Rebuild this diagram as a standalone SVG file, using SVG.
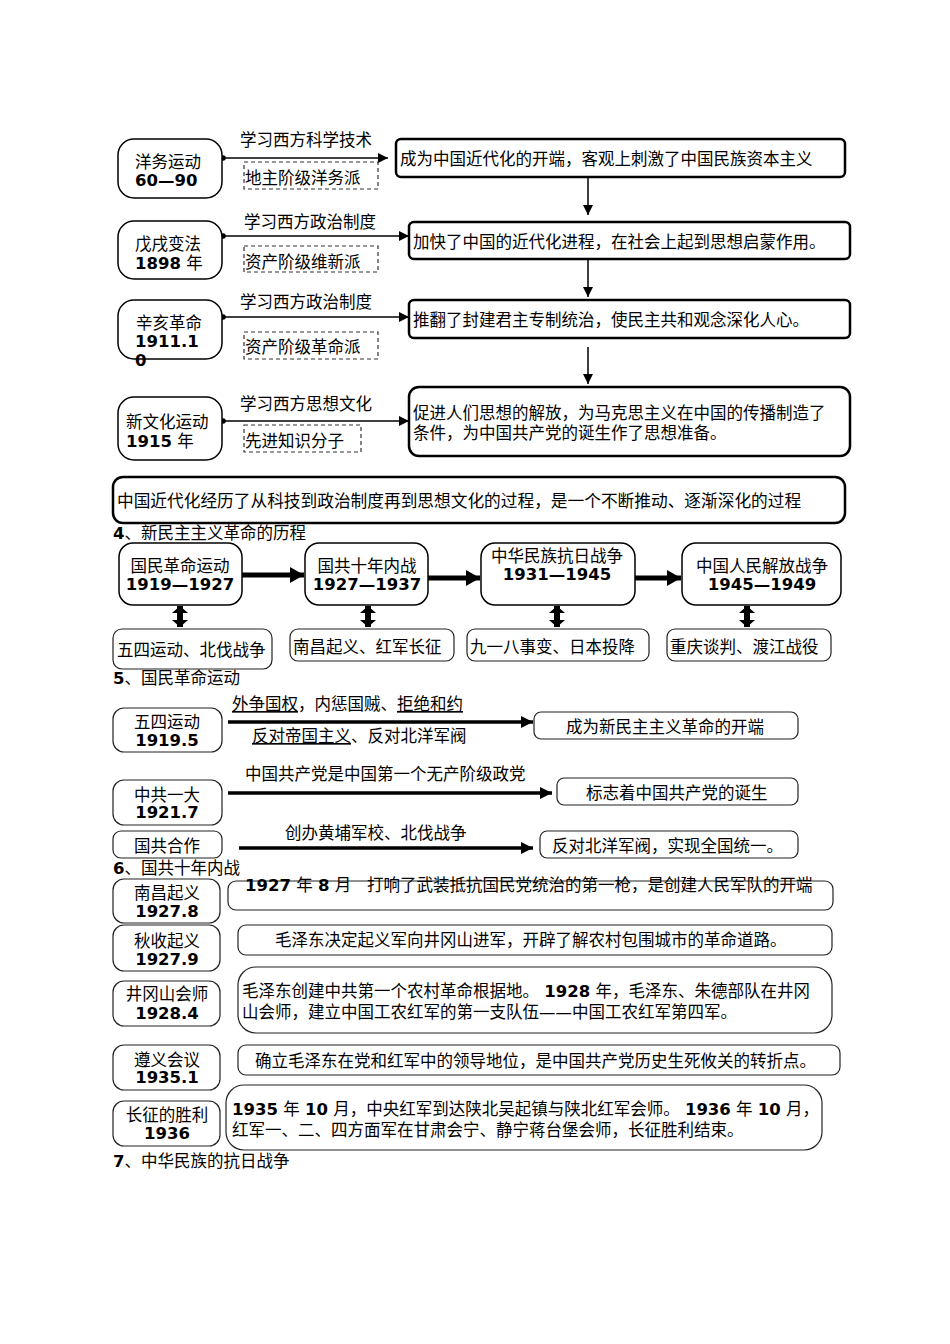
<svg xmlns="http://www.w3.org/2000/svg" width="950" height="1344" viewBox="0 0 950 1344">
<style>
text{font-family:"DejaVu Sans","Noto Sans CJK SC",sans-serif;font-size:16.5px;fill:#000}
.b{font-weight:bold}
.m{text-anchor:middle}
.sum{font-size:16.7px}
.nd{fill:#fff;stroke:#000;stroke-width:1.5}
.res{fill:#fff;stroke:#000;stroke-width:2.5}
.dash{fill:#fff;stroke:#333;stroke-width:1.2;stroke-dasharray:4,3}
.nd2{fill:#fff;stroke:#222;stroke-width:1.2}
.c1{stroke:#000;stroke-width:1.5;fill:none}
.c2{stroke:#000;stroke-width:5;fill:none}
.c3{stroke:#000;stroke-width:6;fill:none}
.c4{stroke:#000;stroke-width:3.5;fill:none}
.u{text-decoration:underline}
</style>
<defs>
<marker id="aS" markerUnits="userSpaceOnUse" viewBox="0 0 10 10" markerWidth="10" markerHeight="10" refX="10" refY="5" orient="auto"><path d="M0,0 L10,5 L0,10 z" fill="#000"/></marker>
<marker id="dot" markerUnits="userSpaceOnUse" viewBox="0 0 6 6" markerWidth="6" markerHeight="6" refX="3" refY="3" orient="auto"><circle cx="3" cy="3" r="2.8" fill="#000"/></marker>
<marker id="aB" markerUnits="userSpaceOnUse" viewBox="0 0 14 16" markerWidth="14" markerHeight="16" refX="14" refY="8" orient="auto"><path d="M0,0 L14,8 L0,16 z" fill="#000"/></marker>
<marker id="aD" markerUnits="userSpaceOnUse" viewBox="0 0 7 16" markerWidth="7" markerHeight="16" refX="7" refY="8" orient="auto-start-reverse"><path d="M0,0 L7,8 L0,16 z" fill="#000"/></marker>
<marker id="aM" markerUnits="userSpaceOnUse" viewBox="0 0 12 12" markerWidth="12" markerHeight="12" refX="12" refY="6" orient="auto"><path d="M0,0 L12,6 L0,12 z" fill="#000"/></marker>
</defs>

<g id="connectors">
<line class="c1" x1="223" y1="158" x2="388" y2="158" marker-start="url(#dot)" marker-end="url(#aS)"/>
<line class="c1" x1="223" y1="236" x2="409" y2="236" marker-start="url(#dot)" marker-end="url(#aS)"/>
<line class="c1" x1="223" y1="317" x2="409" y2="317" marker-start="url(#dot)" marker-end="url(#aS)"/>
<line class="c1" x1="223" y1="421" x2="409" y2="421" marker-start="url(#dot)" marker-end="url(#aS)"/>
<line class="c1" x1="588" y1="178" x2="588" y2="215" marker-end="url(#aS)"/>
<line class="c1" x1="588" y1="260" x2="588" y2="297" marker-end="url(#aS)"/>
<line class="c1" x1="588" y1="347" x2="588" y2="384" marker-end="url(#aS)"/>
<line class="c2" x1="242" y1="575" x2="304" y2="575" marker-end="url(#aB)"/>
<line class="c2" x1="428" y1="578" x2="480" y2="578" marker-end="url(#aB)"/>
<line class="c2" x1="635" y1="578" x2="681" y2="578" marker-end="url(#aB)"/>
<line class="c3" x1="180" y1="606" x2="180" y2="627" marker-start="url(#aD)" marker-end="url(#aD)"/>
<line class="c3" x1="368" y1="606" x2="368" y2="627" marker-start="url(#aD)" marker-end="url(#aD)"/>
<line class="c3" x1="557" y1="606" x2="557" y2="627" marker-start="url(#aD)" marker-end="url(#aD)"/>
<line class="c3" x1="747" y1="606" x2="747" y2="627" marker-start="url(#aD)" marker-end="url(#aD)"/>
<line class="c4" x1="228" y1="722" x2="533" y2="722" marker-end="url(#aM)"/>
<line class="c4" x1="228" y1="793" x2="552" y2="793" marker-end="url(#aM)"/>
<line class="c4" x1="239" y1="848" x2="533" y2="848" marker-end="url(#aM)"/>
</g>

<g id="yangwu"><rect class="nd" x="118" y="139" width="104" height="59" rx="16"/><text x="135" y="168">洋务运动</text><text x="135" y="186" class="b">60—90</text></g>
<g id="lbl1"><text x="240" y="146">学习西方科学技术</text><rect class="dash" x="244" y="162" width="134" height="27"/><text x="245" y="184">地主阶级洋务派</text></g>
<g id="res1"><rect class="res" x="396" y="139" width="449" height="38" rx="5"/><text x="400" y="165">成为中国近代化的开端，客观上刺激了中国民族资本主义</text></g>

<g id="wuxu"><rect class="nd" x="118" y="221" width="104" height="58" rx="16"/><text x="135" y="250">戊戌变法</text><text x="135" y="269"><tspan class="b">1898</tspan> 年</text></g>
<g id="lbl2"><text x="244" y="228">学习西方政治制度</text><rect class="dash" x="244" y="246" width="134" height="26"/><text x="245" y="268">资产阶级维新派</text></g>
<g id="res2"><rect class="res" x="409" y="222" width="441" height="37" rx="5"/><text x="413" y="248">加快了中国的近代化进程，在社会上起到思想启蒙作用。</text></g>

<g id="xinhai"><rect class="nd" x="118" y="300" width="104" height="59" rx="16"/><text x="136" y="329">辛亥革命</text><text x="135" y="347" class="b">1911.1</text><text x="135" y="366" class="b">0</text></g>
<g id="lbl3"><text x="240" y="308">学习西方政治制度</text><rect class="dash" x="244" y="332" width="134" height="27"/><text x="245" y="353">资产阶级革命派</text></g>
<g id="res3"><rect class="res" x="409" y="300" width="441" height="38" rx="5"/><text x="413" y="326">推翻了封建君主专制统治，使民主共和观念深化人心。</text></g>

<g id="xinwenhua"><rect class="nd" x="118" y="397" width="104" height="63" rx="16"/><text x="126" y="428">新文化运动</text><text x="126" y="447"><tspan class="b">1915</tspan> 年</text></g>
<g id="lbl4"><text x="240" y="410">学习西方思想文化</text><rect class="dash" x="244" y="425" width="117" height="27"/><text x="245" y="447">先进知识分子</text></g>
<g id="res4"><rect class="res" x="409" y="387" width="441" height="69" rx="10"/><text x="413" y="419">促进人们思想的解放，为马克思主义在中国的传播制造了</text><text x="413" y="439">条件，为中国共产党的诞生作了思想准备。</text></g>

<g id="summary"><rect class="res" x="113" y="477" width="732" height="46" rx="10"/><text x="117" y="507" class="sum">中国近代化经历了从科技到政治制度再到思想文化的过程，是一个不断推动、逐渐深化的过程</text></g>

<text x="113" y="539"><tspan class="b">4</tspan>、新民主主义革命的历程</text>

<g id="guomin"><rect class="nd" x="119" y="543" width="123" height="62" rx="14"/><text x="180" y="572" class="m">国民革命运动</text><text x="180" y="590" class="m b">1919—1927</text></g>
<g id="neizhan"><rect class="nd" x="305" y="543" width="123" height="62" rx="14"/><text x="367" y="572" class="m">国共十年内战</text><text x="367" y="590" class="m b">1927—1937</text></g>
<g id="kangri"><rect class="nd" x="481" y="543" width="154" height="62" rx="14"/><text x="557" y="562" class="m">中华民族抗日战争</text><text x="557" y="580" class="m b">1931—1945</text></g>
<g id="jiefang"><rect class="nd" x="682" y="543" width="159" height="62" rx="14"/><text x="762" y="572" class="m">中国人民解放战争</text><text x="762" y="590" class="m b">1945—1949</text></g>
<g id="ev1"><rect class="nd2" x="113" y="629" width="159" height="40" rx="9"/><text x="117" y="656">五四运动、北伐战争</text></g>
<g id="ev2"><rect class="nd2" x="290" y="629" width="164" height="32" rx="8"/><text x="293" y="653">南昌起义、红军长征</text></g>
<g id="ev3"><rect class="nd2" x="467" y="629" width="182" height="32" rx="8"/><text x="470" y="653">九一八事变、日本投降</text></g>
<g id="ev4"><rect class="nd2" x="667" y="629" width="164" height="32" rx="8"/><text x="670" y="653">重庆谈判、渡江战役</text></g>

<text x="113" y="684"><tspan class="b">5</tspan>、国民革命运动</text>

<g id="wusi"><rect class="nd2" x="113" y="708" width="109" height="44" rx="11"/><text x="167" y="728" class="m">五四运动</text><text x="167" y="746" class="m b">1919.5</text></g>
<g id="lbl5"><text x="232" y="710"><tspan class="u">外争国权</tspan>，内惩国贼、<tspan class="u">拒绝和约</tspan></text><text x="252" y="742"><tspan class="u">反对帝国主义</tspan>、反对北洋军阀</text></g>
<g id="r5a"><rect class="nd2" x="534" y="712" width="264" height="27" rx="7"/><text x="566" y="733">成为新民主主义革命的开端</text></g>

<g id="yida"><rect class="nd2" x="113" y="780" width="109" height="45" rx="11"/><text x="167" y="801" class="m">中共一大</text><text x="167" y="818" class="m b">1921.7</text></g>
<text x="245" y="780">中国共产党是中国第一个无产阶级政党</text>
<g id="r5b"><rect class="nd2" x="557" y="778" width="241" height="27" rx="7"/><text x="586" y="799">标志着中国共产党的诞生</text></g>

<g id="hezuo"><rect class="nd2" x="113" y="831" width="109" height="27" rx="8"/><text x="167" y="852" class="m">国共合作</text></g>
<text x="285" y="839">创办黄埔军校、北伐战争</text>
<g id="r5c"><rect class="nd2" x="540" y="831" width="258" height="27" rx="7"/><text x="552" y="852">反对北洋军阀，实现全国统一。</text></g>

<text x="113" y="874"><tspan class="b">6</tspan>、国共十年内战</text>

<g id="nanchang"><rect class="nd2" x="113" y="879" width="107" height="44" rx="11"/><text x="167" y="899" class="m">南昌起义</text><text x="167" y="917" class="m b">1927.8</text></g>
<g id="r6a"><rect class="nd2" x="228" y="881" width="605" height="29" rx="8"/><text x="245" y="891"><tspan class="b">1927</tspan> 年 <tspan class="b">8</tspan> 月&#160;&#160; 打响了武装抵抗国民党统治的第一枪，是创建人民军队的开端</text></g>

<g id="qiushou"><rect class="nd2" x="113" y="925" width="107" height="46" rx="11"/><text x="167" y="947" class="m">秋收起义</text><text x="167" y="965" class="m b">1927.9</text></g>
<g id="r6b"><rect class="nd2" x="238" y="925" width="594" height="30" rx="8"/><text x="275" y="946">毛泽东决定起义军向井冈山进军，开辟了解农村包围城市的革命道路。</text></g>

<g id="jinggang"><rect class="nd2" x="113" y="981" width="107" height="45" rx="11"/><text x="167" y="1000" class="m">井冈山会师</text><text x="167" y="1019" class="m b">1928.4</text></g>
<g id="r6c"><rect class="nd2" x="238" y="967" width="594" height="66" rx="18"/><text x="242" y="997">毛泽东创建中共第一个农村革命根据地。 <tspan class="b">1928</tspan> 年，毛泽东、朱德部队在井冈</text><text x="242" y="1018">山会师，建立中国工农红军的第一支队伍——中国工农红军第四军。</text></g>

<g id="zunyi"><rect class="nd2" x="113" y="1045" width="107" height="45" rx="11"/><text x="167" y="1066" class="m">遵义会议</text><text x="167" y="1083" class="m b">1935.1</text></g>
<g id="r6d"><rect class="nd2" x="238" y="1045" width="602" height="30" rx="8"/><text x="255" y="1067">确立毛泽东在党和红军中的领导地位，是中国共产党历史生死攸关的转折点。</text></g>

<g id="changzheng"><rect class="nd2" x="113" y="1101" width="107" height="45" rx="11"/><text x="167" y="1121" class="m">长征的胜利</text><text x="167" y="1139" class="m b">1936</text></g>
<g id="r6e"><rect class="nd2" x="226" y="1085" width="596" height="65" rx="18"/><text x="232" y="1115"><tspan class="b">1935</tspan> 年 <tspan class="b">10</tspan> 月，中央红军到达陕北吴起镇与陕北红军会师。 <tspan class="b">1936</tspan> 年 <tspan class="b">10</tspan> 月，</text><text x="232" y="1136">红军一、二、四方面军在甘肃会宁、静宁蒋台堡会师，长征胜利结束。</text></g>

<text x="113" y="1167"><tspan class="b">7</tspan>、中华民族的抗日战争</text>
</svg>
